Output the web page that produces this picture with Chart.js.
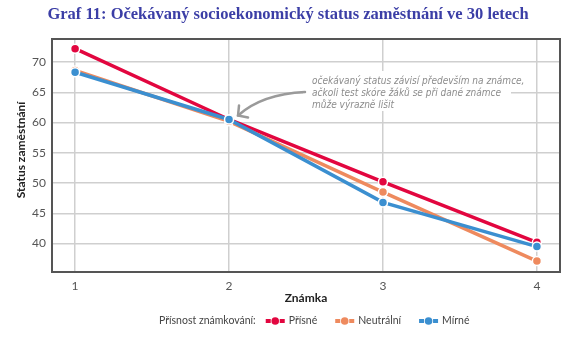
<!DOCTYPE html>
<html>
<head>
<meta charset="utf-8">
<script src="https://cdn.jsdelivr.net/npm/chart.js@4.4.1/dist/chart.umd.min.js"></script>
<style>
  html, body { margin: 0; padding: 0; background: #fff; }
  #wrap { width: 578px; height: 343px; }
</style>
</head>
<body>
<div id="wrap"><canvas id="status-chart"></canvas></div>
<script>
// grade (x) and expected occupational status at 30 (y)
const grades = [1, 2, 3, 4];
const strictValues = [72.2, 60.5, 50.2, 40.2];
const neutralValues = [68.6, 60.2, 48.5, 37.1];
const lenientValues = [68.3, 60.5, 46.8, 39.5];
const statusTicks = [40, 45, 50, 55, 60, 65, 70];
const seriesNames = ["Přísné", "Neutrální", "Mírné"];
const seriesColors = ["#e2063f", "#ee8a5e", "#3b8fd0"];

const chartTitle = "Graf 11: Očekávaný socioekonomický status zaměstnání ve 30 letech";
const xTitle = "Známka";
const yTitle = "Status zaměstnání";
const legendTitle = "Přísnost známkování:";
const noteLines = [
  "očekávaný status závisí především na známce,",
  "ačkoli test skóre žáků se při dané známce",
  "může výrazně lišit"
];

const sansFont = "Lato, 'Open Sans', sans-serif";

function toPoints(values) {
  return grades.map((g, i) => ({ x: g, y: values[i] }));
}

function makeDataset(idx, values, order) {
  return {
    label: seriesNames[idx],
    data: toPoints(values),
    borderColor: seriesColors[idx],
    backgroundColor: seriesColors[idx],
    borderWidth: 3.5,
    pointRadius: 4.5,
    pointBorderWidth: 1.5,
    pointBorderColor: "#fff",
    pointBackgroundColor: seriesColors[idx],
    tension: 0,
    order: order
  };
}

// frame, note box, title, axis titles and legend
const extras = {
  id: "extras",
  beforeDatasetsDraw(chart) {
    const { ctx, chartArea: a, scales } = chart;
    ctx.save();
    // white box behind the note
    ctx.fillStyle = "#fff";
    ctx.fillRect(303, 71, 208, 40);
    // plot frame
    ctx.strokeStyle = "#555";
    ctx.lineWidth = 2;
    ctx.strokeRect(a.left, a.top, a.right - a.left, a.bottom - a.top);

    // note text
    ctx.fillStyle = "#8c8c8c";
    ctx.font = "italic 10px 'DejaVu Sans Condensed', 'DejaVu Sans', sans-serif";
    ctx.textAlign = "left";
    ctx.textBaseline = "middle";
    noteLines.forEach((t, i) => ctx.fillText(t, 312, 81 + i * 12));

    // curved arrow pointing at the grade 2 point
    const tx = scales.x.getPixelForValue(2) + 9;
    const ty = scales.y.getPixelForValue(60.5) - 4;
    ctx.strokeStyle = "#9a9a9a";
    ctx.lineWidth = 2.5;
    ctx.lineCap = "round";
    ctx.beginPath();
    ctx.moveTo(305, 92);
    ctx.quadraticCurveTo(262, 94, tx, ty);
    ctx.stroke();
    ctx.beginPath();
    ctx.moveTo(tx + 1, ty - 10);
    ctx.lineTo(tx, ty);
    ctx.lineTo(tx + 10, ty + 2);
    ctx.stroke();
    ctx.restore();
  },
  afterDraw(chart) {
    const { ctx, chartArea: a } = chart;
    ctx.save();
    ctx.textBaseline = "middle";

    // chart title
    ctx.fillStyle = "#3b3ea6";
    ctx.font = "bold 16.5px 'Liberation Serif', 'DejaVu Serif', serif";
    ctx.textAlign = "center";
    ctx.fillText(chartTitle, 288, 15);

    // axis titles
    ctx.fillStyle = "#222";
    ctx.font = "bold 12px " + sansFont;
    ctx.fillText(xTitle, (a.left + a.right) / 2, 298);
    ctx.save();
    ctx.translate(21, 150);
    ctx.rotate(-Math.PI / 2);
    ctx.fillText(yTitle, 0, 0);
    ctx.restore();

    // legend row
    ctx.font = "10.5px " + sansFont;
    ctx.textAlign = "left";
    const y = 321;
    ctx.fillStyle = "#444";
    let x = 159;
    ctx.fillText(legendTitle, x, y);
    x += ctx.measureText(legendTitle).width + 10;
    seriesNames.forEach((name, i) => {
      ctx.fillStyle = seriesColors[i];
      ctx.fillRect(x, y - 2, 5, 4);
      ctx.fillRect(x + 14, y - 2, 5, 4);
      ctx.beginPath();
      ctx.arc(x + 9.5, y, 3.8, 0, Math.PI * 2);
      ctx.fill();
      ctx.fillStyle = "#444";
      ctx.fillText(name, x + 23, y);
      x += 23 + ctx.measureText(name).width + 18;
    });
    ctx.restore();
  }
};

new Chart(document.getElementById("status-chart"), {
  type: "line",
  data: {
    datasets: [
      makeDataset(0, strictValues, 2),
      makeDataset(1, neutralValues, 1),
      makeDataset(2, lenientValues, 0)
    ]
  },
  options: {
    responsive: true,
    maintainAspectRatio: false,
    animation: false,
    layout: { padding: { top: 39, right: 18, left: 0, bottom: 0 } },
    plugins: {
      legend: { display: false },
      title: { display: false },
      tooltip: { enabled: false }
    },
    scales: {
      x: {
        type: "linear",
        min: 0.85,
        max: 4.15,
        afterBuildTicks(scale) { scale.ticks = grades.map(v => ({ value: v })); },
        afterFit(scale) { scale.height = 71; },
        grid: { color: "#cfcfcf", lineWidth: 1.5, drawTicks: false },
        border: { display: false },
        ticks: { color: "#555", padding: 7, font: { family: sansFont, size: 12 } }
      },
      y: {
        min: 35.3,
        max: 73.8,
        afterBuildTicks(scale) { scale.ticks = statusTicks.map(v => ({ value: v })); },
        afterFit(scale) { scale.width = 52; },
        grid: { color: "#cfcfcf", lineWidth: 1.5, drawTicks: false },
        border: { display: false },
        ticks: { color: "#555", padding: 6, font: { family: sansFont, size: 12 } }
      }
    }
  },
  plugins: [extras]
});
</script>
</body>
</html>
